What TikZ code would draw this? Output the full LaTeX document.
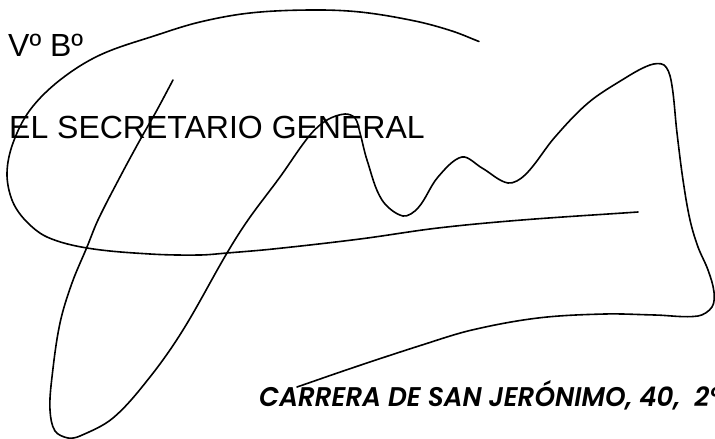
\documentclass[tikz,border=0pt]{standalone}
\usepackage{fontspec}
\setmainfont{Liberation Sans}
\newfontfamily\addrfont[ItalicFont={Poppins SemiBold Italic}]{Poppins}
% chord-length spline through a list of x/y points, stored in a macro
\def\splshift#1#2{%
  \xdef\pax{\pbx}\xdef\pay{\pby}\xdef\pbx{\pcx}\xdef\pby{\pcy}%
  \xdef\pcx{\pdx}\xdef\pcy{\pdy}\xdef\pdx{#1}\xdef\pdy{#2}%
  \pgfmathsetmacro\lenab{veclen(\pbx-\pax,\pby-\pay)}%
  \pgfmathsetmacro\lenbc{veclen(\pcx-\pbx,\pcy-\pby)}%
  \pgfmathsetmacro\lencd{veclen(\pdx-\pcx,\pdy-\pcy)}%
  \ifdim\lenbc pt<0.01pt\else
    \pgfmathsetmacro\cax{\pbx+(\pcx-\pax)/(3*(\lenab+\lenbc))*\lenbc}%
    \pgfmathsetmacro\cay{\pby+(\pcy-\pay)/(3*(\lenab+\lenbc))*\lenbc}%
    \pgfmathsetmacro\cbx{\pcx-(\pdx-\pbx)/(3*(\lenbc+\lencd))*\lenbc}%
    \pgfmathsetmacro\cby{\pcy-(\pdy-\pby)/(3*(\lenbc+\lencd))*\lenbc}%
    \xdef\splcurve{\splcurve .. controls (\cax,\cay) and (\cbx,\cby) .. (\pcx,\pcy)}%
  \fi}
\def\splbuild#1#2#3{% first x, first y, rest of list
  \xdef\pbx{#1}\xdef\pby{#2}\xdef\pcx{#1}\xdef\pcy{#2}\xdef\pdx{#1}\xdef\pdy{#2}%
  \xdef\splcurve{(#1,#2)}%
  \foreach \ptx/\pty in {#3}{\splshift{\ptx}{\pty}}%
  \splshift{\pdx}{\pdy}}
\begin{document}
\begin{tikzpicture}[x=1pt,y=-1pt,
  ink/.style={draw=black,line width=1.6pt,line cap=round,line join=round},
  head/.style={anchor=base west,inner sep=0pt,font=\fontsize{32}{32}\selectfont},
  addr/.style={anchor=base west,inner sep=0pt,xscale=0.97,transform shape,font=\fontsize{27}{27}\addrfont\itshape\selectfont}]
\useasboundingbox (0,0) rectangle (715,439);
\fill[white] (0,0) rectangle (715,439);
\node[head] (vb) at (8,56) {Vº Bº};
\node[head] (sec) at (9,138) {EL SECRETARIO GENERAL};
\node[addr] (addr) at (259,406) {CARRERA DE SAN JERÓNIMO, 40,\ \ 2º};
\splbuild{479}{41.5}{452/31,415/21,360/12,310/10,250/13,200/22,157/35,100/55,60/80,
 30/110,13/143,7/173,12/200,25/220,47/237,87/248,150/254,200/255,227/253,
 273/249,360/239,438/228,522/220,638/212}
\draw[ink] \splcurve;
\splbuild{173}{80}{157/110,140/140,120/177,98/220,87/247,72/283,60/323,52/377,50/410,
 55/431,68/438,80/436,113/418,150/377,183/330,227/253,248/220,280/177,310/135,
 327/120,345/114,355/118,360/133,367/160,382/200,403/216,418/208,438/177,462/157,482/168,
 508/183,525/175,555/137,588/103,622/80,650/65,664/65,671/80,677/133,683/180,
 690/220,698/247,708/270,714/292,712/307,698/316,655/315,605/314,538/318,472/330,422/345,
 355/367,297/387}
\draw[ink] \splcurve;
\end{tikzpicture}
\end{document}
